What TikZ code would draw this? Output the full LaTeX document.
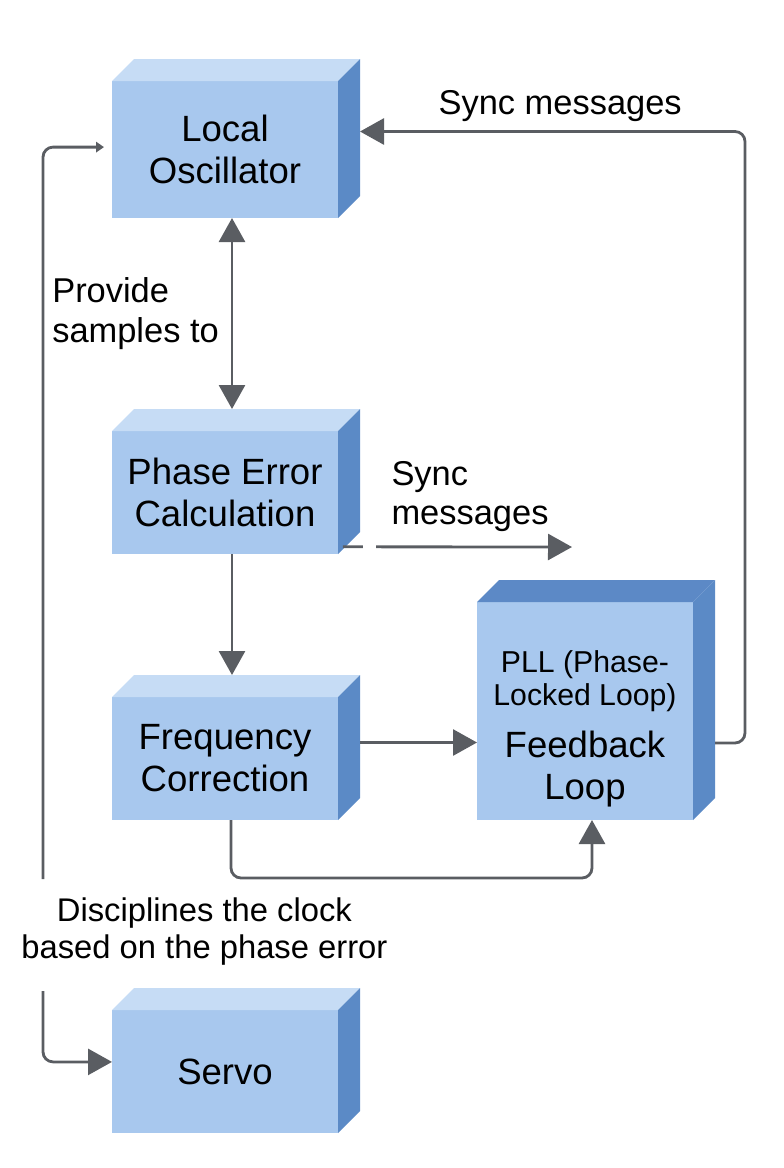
\documentclass[tikz,border=0pt]{standalone}
\usepackage{fontspec}
\setmainfont{Liberation Sans}
\usetikzlibrary{arrows.meta, positioning, calc}
\definecolor{boxFront}{HTML}{A8C8EE}
\definecolor{boxTop}{HTML}{C6DCF5}
\definecolor{boxTopDark}{HTML}{5C89C6}
\definecolor{boxSide}{HTML}{5B8AC6}
\definecolor{lineGray}{HTML}{5A5D62}
\tikzset{
  arrowG/.style={-{Triangle[length=6mm, width=6.5mm]}, draw=lineGray, line width=2pt},
  arrowGG/.style={{Triangle[length=6mm, width=6.5mm]}-{Triangle[length=6mm, width=6.5mm]},
                  draw=lineGray, line width=2pt},
  arrowS/.style={-{Triangle[length=2mm, width=2.6mm]}, draw=lineGray, line width=2pt},
  boxF/.style={rectangle, fill=boxFront, outer sep=0pt, inner sep=0pt,
               minimum width=5.65cm, minimum height=3.075cm, align=center,
               font=\fontsize{26}{30}\selectfont},
  lbl/.style={align=left, inner sep=0pt, font=\fontsize{24.5}{28}\selectfont},
}

\begin{document}
\begin{tikzpicture}
    \useasboundingbox (0,0) rectangle (19.6,-29.2);
    % front faces
    \node[boxF, minimum height=3.425cm] (lo) at (5.625,-3.7375) {Local\\Oscillator};
    \node[boxF] (pec) at (5.625,-12.3125) {Phase Error\\Calculation};
    \node[boxF] (fc) at (5.625,-18.9625) {Frequency\\Correction};
    \node[boxF, minimum width=5.4cm, minimum height=5.45cm] (pll) at (14.625,-17.775) {};
    \node[boxF] (servo) at (5.625,-26.7875) {Servo};
    % top and side faces
    \foreach \n/\topc in {lo/boxTop, pec/boxTop, fc/boxTop, pll/boxTopDark, servo/boxTop} {
      \fill[\topc] (\n.north west) -- ++(0.55,0.55) -- ($(\n.north east)+(0.55,0.55)$)
        -- (\n.north east) -- cycle;
      \fill[boxSide] (\n.north east) -- ++(0.55,0.55) -- ($(\n.south east)+(0.55,0.55)$)
        -- (\n.south east) -- cycle;
    }
    \node[align=center, font=\fontsize{26}{30}\selectfont] (plltxt) at ([yshift=-0.45cm]pll.center)
      {{\fontsize{21.5}{24}\selectfont PLL (Phase-}\\[-7pt]
       {\fontsize{21.5}{24}\selectfont Locked Loop)}\\[7pt]Feedback\\Loop};

    % connectors
    \draw[arrowGG] ([xshift=1.75mm]lo.south) -- ([xshift=1.75mm, yshift=5.5mm]pec.north);
    \node[lbl, anchor=west] (prov) at (1.3,-7.84) {Provide\\samples to};
    \draw[arrowG] ([xshift=1.75mm]pec.south) -- ([xshift=1.75mm, yshift=5.5mm]fc.north);

    \coordinate (syncEnd) at (14.3,-13.675);
    \draw[arrowG, dash pattern=on 5mm off 3.3mm on 20cm] ($(pec.south east)+(0.12,0.18)$)
      -- node[lbl, above=3.4mm, pos=0.555] (sync2) {Sync\\messages} (syncEnd);

    \coordinate (fcOut) at ($(fc.east)+(0.55,0.4)$);
    \draw[arrowG] (fcOut) -- (fcOut -| pll.west);
    \draw[arrowG, rounded corners=2.5mm] ([xshift=1.5mm]fc.south) -- ++(0,-1.45)
      -| ([xshift=1.75mm]pll.south);

    \coordinate (pllOut) at ($(pll.east)+(0.55,-0.8)$);
    \coordinate (loIn) at ($(lo.east)+(0.55,0.45)$);
    \draw[arrowG, rounded corners=2.5mm] (pllOut) -- ++(0.75,0)
      |- node[lbl, above=2mm, pos=0.74] (sync1) {Sync messages} (loIn);

    % left loop through the servo
    \coordinate (leftTop) at (1.075,-21.975);
    \draw[arrowS, rounded corners=2.5mm] (leftTop) |- ([xshift=-2mm, yshift=0.06cm]lo.west);
    \node[lbl, align=center, font=\fontsize{23.3}{26}\selectfont] (disc) at (5.11,-23.29)
      {Disciplines the clock\\based on the phase error};
    \coordinate (leftBot) at (1.075,-24.775);
    \draw[arrowG, rounded corners=2.5mm] (leftBot) |- ([yshift=0.24cm]servo.west);
\end{tikzpicture}
\end{document}
